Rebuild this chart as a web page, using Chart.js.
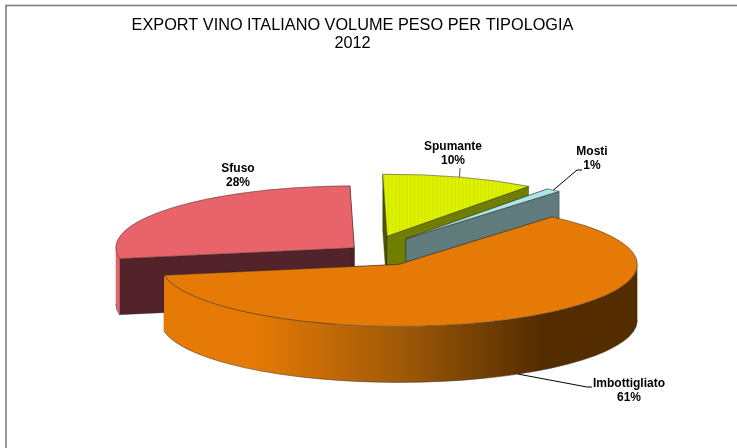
<!DOCTYPE html>
<html><head><meta charset="utf-8">
<style>html,body{margin:0;padding:0;background:#fff}canvas{display:block}</style>
<script src="https://cdn.jsdelivr.net/npm/chart.js@4"></script>
</head><body>
<div style="width:737px;height:448px"><canvas id="c" width="737" height="448"></canvas></div>
<script>
const categories = ['Imbottigliato', 'Sfuso', 'Spumante', 'Mosti'];
const shares = [61.1, 27.5, 10.4, 1.0];
const titleLines = ['EXPORT VINO ITALIANO VOLUME PESO PER TIPOLOGIA', '2012'];

// styling
const explode = [0.25, 0.08, 0.25, 0.25];
const drawOrder = [1, 2, 3, 0];
const topColors = ['#E57A06', '#E8636A', null, '#A9E8E8'];
const cutColors = ['#8a4a00', '#52232A', '#6F7D00', '#5F7B7B'];
const startCutColors = ['#8a4a00', '#52232A', '#4F5400', '#5F7B7B'];
const labelBox = [[629, 384], [238, 169], [453, 147], [592, 152]];
const leaderElbow = [[587, 387, 592, 387], null, [460, 168, 460, 168], [577, 170, 582, 170]];
const FRAME = {x: 6, y: 5.5, w: 737, h: 460};
const PROJ = {cx: 369, cy: 251, rx: 238.5, ry: 62, depth: 56};

function stripes() {
  const p = document.createElement('canvas'); p.width = 3; p.height = 3;
  const g = p.getContext('2d');
  g.fillStyle = '#DFF200'; g.fillRect(0, 0, 3, 3);
  g.fillStyle = '#D2E600'; g.fillRect(2, 0, 1, 3);
  return g.createPattern(p, 'repeat');
}
const bg = topColors.slice(); bg[2] = stripes();

function geom(arc, i) {
  const {x, y, startAngle, endAngle, outerRadius} = arc.getProps(['x', 'y', 'startAngle', 'endAngle', 'outerRadius']);
  const sx = PROJ.rx / outerRadius, sy = PROJ.ry / outerRadius, mid = (startAngle + endAngle) / 2;
  const ax = PROJ.cx + explode[i] * PROJ.rx * Math.cos(mid), ay = PROJ.cy + explode[i] * PROJ.ry * Math.sin(mid);
  const rim = (a, d = 0) => [ax + PROJ.rx * Math.cos(a), ay + PROJ.ry * Math.sin(a) + d];
  return {x, y, sx, sy, mid, ax, ay, rim, startAngle, endAngle};
}
function poly(ctx, pts) {
  ctx.beginPath(); pts.forEach((p, i) => i ? ctx.lineTo(p[0], p[1]) : ctx.moveTo(p[0], p[1])); ctx.closePath();
}
function cutWall(ctx, g, a, color) {
  const r = g.rim(a), D = PROJ.depth;
  poly(ctx, [[g.ax, g.ay], r, [r[0], r[1] + D], [g.ax, g.ay + D]]);
  ctx.fillStyle = color; ctx.fill();
  ctx.strokeStyle = 'rgba(30,20,10,.55)'; ctx.lineWidth = .6; ctx.stroke();
}
function outerWall(ctx, g, i) {
  // the visible part of the rim is the front half of the ellipse (0..PI in canvas angles)
  const tau = Math.PI * 2;
  let a0 = g.startAngle, a1 = g.endAngle;
  while (a0 < -1e-6) { a0 += tau; a1 += tau; }
  while (a0 >= tau) { a0 -= tau; a1 -= tau; }
  const spans = [[Math.max(a0, 0), Math.min(a1, Math.PI)], [Math.max(a0, tau), Math.min(a1, tau + Math.PI)]];
  spans.forEach(([s, e]) => {
    if (e <= s) return;
    ctx.beginPath();
    ctx.ellipse(g.ax, g.ay, PROJ.rx, PROJ.ry, 0, s, e);
    ctx.ellipse(g.ax, g.ay + PROJ.depth, PROJ.rx, PROJ.ry, 0, e, s, true);
    ctx.closePath();
    if (i === 0) {
      const gr = ctx.createLinearGradient(g.ax - PROJ.rx, 0, g.ax + PROJ.rx, 0);
      gr.addColorStop(0, '#E57A06'); gr.addColorStop(.2, '#E57A06');
      gr.addColorStop(.5, '#A05A08'); gr.addColorStop(.8, '#532C00'); gr.addColorStop(1, '#532C00');
      ctx.fillStyle = gr;
    } else ctx.fillStyle = topColors[i];
    ctx.fill();
    ctx.beginPath();
    ctx.ellipse(g.ax, g.ay + PROJ.depth, PROJ.rx, PROJ.ry, 0, s, e);
    ctx.strokeStyle = 'rgba(70,60,50,.7)'; ctx.lineWidth = .8; ctx.stroke();
  });
}
function outline(ctx, g) {
  ctx.beginPath();
  ctx.moveTo(g.ax, g.ay);
  ctx.ellipse(g.ax, g.ay, PROJ.rx, PROJ.ry, 0, g.startAngle, g.endAngle);
  ctx.closePath();
  ctx.strokeStyle = 'rgba(60,50,40,.75)'; ctx.lineWidth = .7; ctx.stroke();
}

const pie3d = {
  id: 'pie3d',
  beforeDraw(chart) {
    const c = chart.ctx;
    c.save(); c.fillStyle = '#fff'; c.fillRect(0, 0, chart.width, chart.height);
    c.strokeStyle = '#7f7f7f'; c.lineWidth = 1.6;
    c.strokeRect(FRAME.x, FRAME.y, FRAME.w, FRAME.h); c.restore();
  },
  beforeDatasetDraw(chart) {
    const c = chart.ctx, arcs = chart.getDatasetMeta(0).data;
    drawOrder.forEach(i => {
      const arc = arcs[i], g = geom(arc, i);
      c.save();
      cutWall(c, g, g.startAngle, startCutColors[i]);
      cutWall(c, g, g.endAngle, cutColors[i]);
      outerWall(c, g, i);
      c.restore();
      c.save();
      c.translate(g.ax, g.ay); c.scale(g.sx, g.sy); c.translate(-g.x, -g.y);
      arc.draw(c);
      c.restore();
      c.save(); outline(c, g); c.restore();
    });
    return false;
  },
  afterDatasetsDraw(chart) {
    const c = chart.ctx, arcs = chart.getDatasetMeta(0).data;
    c.save();
    c.font = 'bold 12px "Liberation Sans", Arial, sans-serif';
    c.textAlign = 'center'; c.textBaseline = 'middle'; c.fillStyle = '#000';
    categories.forEach((name, i) => {
      const g = geom(arcs[i], i), el = leaderElbow[i];
      if (el) {
        const s = g.rim(g.mid, i === 0 ? PROJ.depth : 0);
        c.beginPath(); c.moveTo(s[0], s[1]); c.lineTo(el[0], el[1]); c.lineTo(el[2], el[3]);
        c.strokeStyle = i === 2 ? '#555' : '#000'; c.lineWidth = 1; c.stroke();
      }
      const [lx, ly] = labelBox[i];
      c.fillText(name, lx, ly);
      c.fillText(Math.round(shares[i]) + '%', lx, ly + 14);
    });
    c.restore();
  }
};

new Chart(document.getElementById('c'), {
  type: 'pie',
  data: {labels: categories, datasets: [{data: shares, backgroundColor: bg, borderWidth: 0}]},
  options: {
    responsive: false, animation: false, rotation: 40,
    layout: {padding: {right: 32}},
    plugins: {
      legend: {display: false}, tooltip: {enabled: false},
      title: {display: true, text: titleLines, color: '#000', align: 'center',
        font: {family: '"Liberation Sans", Arial, sans-serif', size: 16.3, weight: 'normal', lineHeight: 1.1},
        padding: {top: 17, bottom: 10}}
    }
  },
  plugins: [pie3d]
});
</script>
</body></html>
